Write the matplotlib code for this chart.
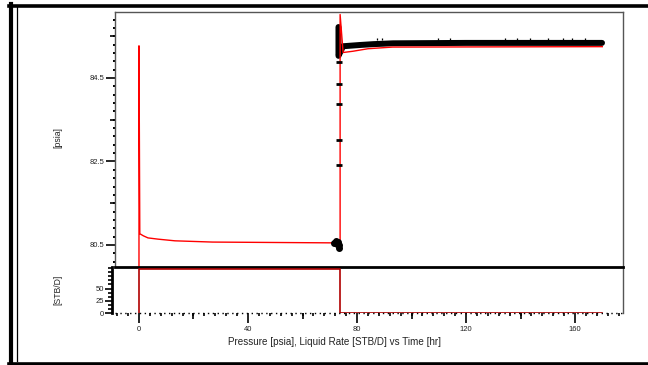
import numpy as np
import matplotlib
matplotlib.use("Agg")
import matplotlib.pyplot as plt
from matplotlib.lines import Line2D
from matplotlib.ticker import FixedLocator, NullFormatter

plt.rcParams['font.family'] = ['Liberation Sans', 'DejaVu Sans']

# model pressure (red line)
t_model = [0, 0, 0.3, 1.6, 3.3, 7.0, 13.2, 27.0, 50.0, 73.8, 73.8, 74.9, 78.5, 84.0, 93.0, 170.0]
p_model = [79.0, 85.27, 80.77, 80.72, 80.67, 80.64, 80.60, 80.57, 80.56, 80.55,
           86.02, 85.11, 85.14, 85.20, 85.24, 85.25]

# measured pressure, end of drawdown (black blob)
t_dd = [71.6, 72.2, 72.8, 73.2, 73.5, 73.5]
p_dd = [80.55, 80.60, 80.52, 80.57, 80.50, 80.42]

# measured pressure, sparse points along the shut-in jump
t_jump = [73.5, 73.5, 73.5, 73.5, 73.5]
p_jump = [82.42, 83.01, 83.88, 84.36, 84.88]

# measured pressure, build-up (dense black band)
t_bu = [73.2, 73.2, 74.9, 81.1, 86.0, 93.2, 120.0, 169.9]
p_bu = [85.72, 85.03, 85.26, 85.29, 85.31, 85.33, 85.34, 85.34]

# outliers above the build-up band
t_out = [87.3, 89.2, 109.7, 114.1, 134.3, 138.7, 143.5, 150.1, 155.6, 158.9, 163.7]
p_out = [85.43] * len(t_out)

# liquid rate
t_rate = [0, 0, 73.8, 73.8, 170.0]
q_rate = [0, 90, 90, 0, 0]

W, H = 648, 365
fig = plt.figure(figsize=(W / 100, H / 100), dpi=100)

def box(l, t, r, b):
    return [l / W, 1 - b / H, (r - l) / W, (b - t) / H]

ax_p = fig.add_axes(box(115, 12, 623, 266.5))
ax_q = fig.add_axes(box(115, 266.5, 623, 313), sharex=ax_p)

tick_col = '#222222'
fs = 5.5

# pressure panel
ax_p.plot(t_model, p_model, color='red', lw=1, zorder=4)
ax_p.plot(t_bu, p_bu, color='black', lw=4.3, solid_capstyle='round', zorder=3)
ax_p.plot(t_dd, p_dd, 'o', color='black', ms=4, zorder=5)
ax_p.plot(t_jump, p_jump, '_', color='black', ms=4, mew=2, zorder=5)
ax_p.plot(t_out, p_out, '|', color='black', ms=1.8, mew=0.9, zorder=3)

ax_p.set_xlim(-8.8, 177.6)
ax_p.set_ylim(79.985, 86.08)
ax_p.yaxis.set_major_locator(FixedLocator([80.5, 82.5, 84.5]))
ax_p.yaxis.set_minor_locator(FixedLocator(np.arange(80.1, 86.1, 0.2)))
ax_p.set_yticklabels(['80.5', '82.5', '84.5'])
ax_p.tick_params(axis='y', which='major', direction='out', length=6.5, width=1.2,
                 pad=1, labelsize=fs, labelcolor=tick_col)
ax_p.tick_params(axis='y', which='minor', direction='out', length=1.8, width=1.4)
ax_p.tick_params(axis='x', which='both', bottom=False, labelbottom=False)
sec_p = ax_p.secondary_yaxis('left')
sec_p.set_yticks([81.5, 83.5, 85.5])
sec_p.yaxis.set_major_formatter(NullFormatter())
sec_p.tick_params(direction='out', length=3.6, width=1.2)
sec_p.spines['left'].set_visible(False)
for s in ['top', 'right', 'left']:
    ax_p.spines[s].set_color('#555555')
    ax_p.spines[s].set_linewidth(1)
ax_p.spines['bottom'].set_visible(False)

# rate panel
ax_q.plot(t_rate, q_rate, color='#b00000', lw=1.2, zorder=3)
ax_q.axhline(0, color='black', lw=1, ls=(0, (1, 2.5)), clip_on=False, zorder=4)
ax_q.set_ylim(0, 95)
ax_q.yaxis.set_major_locator(FixedLocator([0, 25, 50]))
ax_q.yaxis.set_minor_locator(FixedLocator(np.arange(0, 92, 25 / 3)))
ax_q.tick_params(axis='y', which='major', direction='out', length=5, width=1.2,
                 pad=1, labelsize=fs, labelcolor=tick_col)
ax_q.tick_params(axis='y', which='minor', direction='out', length=3.2, width=1.2)
ax_q.xaxis.set_major_locator(FixedLocator([0, 40, 80, 120, 160]))
ax_q.xaxis.set_minor_locator(FixedLocator(np.arange(-8, 180, 4)))
ax_q.tick_params(axis='x', which='major', direction='out', length=7.5, width=1.2,
                 pad=2, labelsize=fs, labelcolor=tick_col)
ax_q.tick_params(axis='x', which='minor', direction='out', length=2.2, width=1.2)
sec_q = ax_q.secondary_xaxis('bottom')
sec_q.set_xticks([20, 60, 100, 140])
sec_q.xaxis.set_major_formatter(NullFormatter())
sec_q.tick_params(direction='out', length=4, width=1.2)
sec_q.spines['bottom'].set_visible(False)
ax_q.spines['top'].set_color('black')
ax_q.spines['top'].set_linewidth(2)
ax_q.spines['left'].set_color('black')
ax_q.spines['left'].set_linewidth(2)
ax_q.spines['left'].set_position(('outward', 2))
ax_q.spines['right'].set_color('#555555')
ax_q.spines['right'].set_linewidth(1)
ax_q.spines['bottom'].set_visible(False)

# labels
fig.text(58 / W, 1 - 138 / H, '[psia]', rotation=90, ha='center', va='center',
         fontsize=6.2, color=tick_col)
fig.text(58 / W, 1 - 290 / H, '[STB/D]', rotation=90, ha='center', va='center',
         fontsize=6.2, color=tick_col)
fig.text(228 / W, 1 - 342 / H, 'Pressure [psia], Liquid Rate [STB/D] vs Time [hr]',
         ha='left', va='center', fontsize=7.1, color=tick_col)

# outer frame
fig.add_artist(Line2D([9 / W, 1], [1 - 5.5 / H] * 2, color='black', lw=2.6))
fig.add_artist(Line2D([9 / W, 1], [1 - 363.5 / H] * 2, color='black', lw=2.6))
fig.add_artist(Line2D([11 / W] * 2, [1 - 4 / H, 0], color='black', lw=3))
fig.add_artist(Line2D([16.5 / W] * 2, [1 - 7 / H, 1 - 361 / H], color='black', lw=0.9))

fig.savefig('out.png', dpi=100)
